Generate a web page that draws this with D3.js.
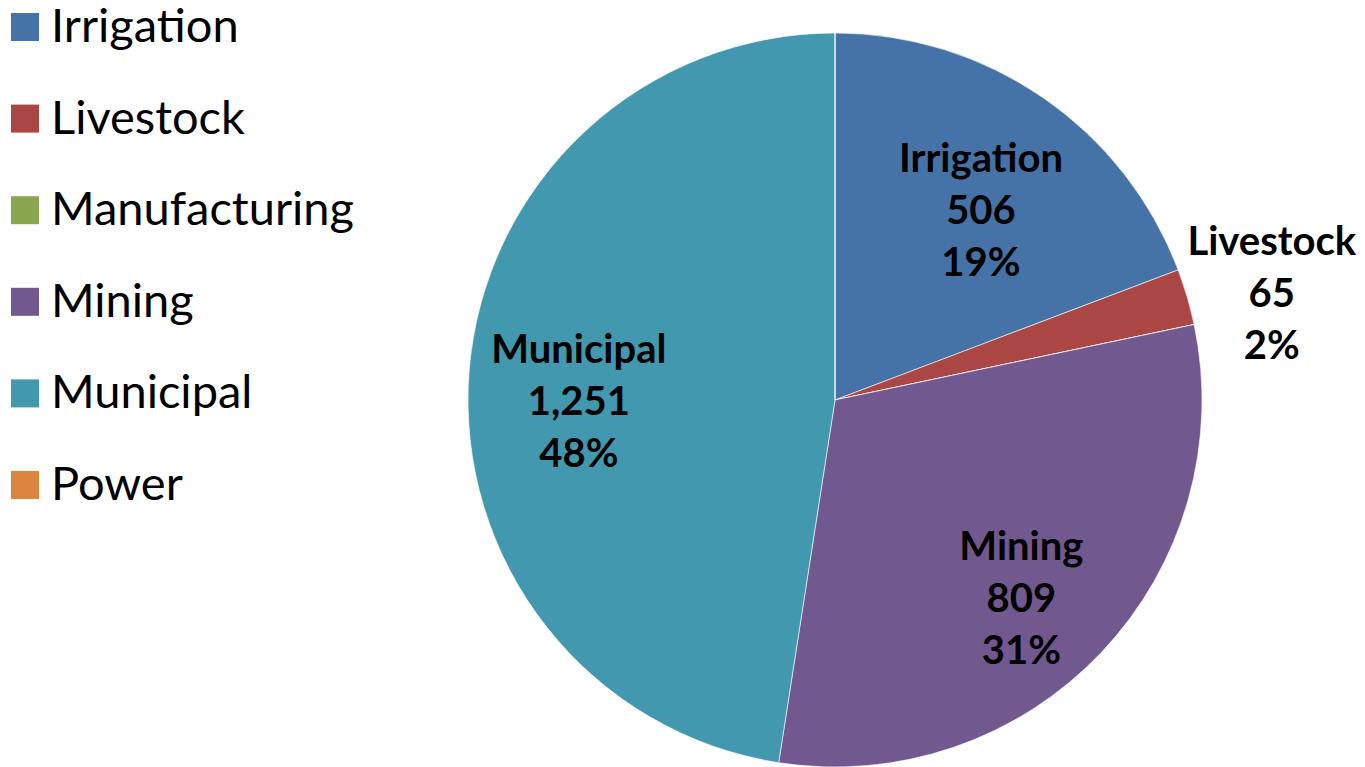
<!DOCTYPE html>
<html>
<head>
<meta charset="utf-8">
<script src="https://cdn.jsdelivr.net/npm/d3@7"></script>
<style>
  body { margin: 0; background: #fff; }
  svg { display: block; }
  text { font-family: Lato, "Open Sans", sans-serif; fill: #000; }
</style>
</head>
<body>
<div id="chart"></div>
<script>
// water use by sector
var categories = ["Irrigation", "Livestock", "Manufacturing", "Mining", "Municipal", "Power"];
var values = [506, 65, 0, 809, 1251, 0];
var colors = ["#4572A7", "#AA4643", "#89A54E", "#71588F", "#4198AF", "#DB843D"];

var width = 1365, height = 767;
var cx = 835, cy = 400, radius = 367;

var data = categories.map(function(c, i) { return {name: c, value: values[i], color: colors[i]}; });
var total = d3.sum(values);

var svg = d3.select("#chart").append("svg")
    .attr("width", width)
    .attr("height", height);

var pie = d3.pie()
    .sort(null)
    .value(function(d) { return d.value; });

var arc = d3.arc().innerRadius(0).outerRadius(radius);
var labelArc = d3.arc().innerRadius(radius * 0.70).outerRadius(radius * 0.70);
var outerLabelArc = d3.arc().innerRadius(radius * 1.24).outerRadius(radius * 1.24);

var g = svg.append("g")
    .attr("transform", "translate(" + cx + "," + cy + ")");

var arcs = pie(data);

g.selectAll("path.slice")
    .data(arcs)
    .enter().append("path")
    .attr("class", "slice")
    .attr("d", arc)
    .attr("fill", function(d) { return d.data.color; })
    .attr("stroke", "#fff")
    .attr("stroke-width", 0.6);

//data labels
var fmt = d3.format(",");
var labels = g.selectAll("text.label")
    .data(arcs.filter(function(d) { return d.data.value > 0; }))
    .enter().append("text")
    .attr("class", "label")
    .attr("text-anchor", "middle")
    .style("font-size", "40px")
    .style("font-weight", "bold")
    .attr("transform", function(d) {
        var small = (d.endAngle - d.startAngle) < 0.2;
        var p = small ? outerLabelArc.centroid(d) : labelArc.centroid(d);
        return "translate(" + p[0] + "," + (p[1] + 23) + ")";
    });

labels.each(function(d) {
    var t = d3.select(this);
    var lines = [d.data.name, fmt(d.data.value), Math.round(d.data.value / total * 100) + "%"];
    lines.forEach(function(s, i) {
        t.append("tspan")
            .attr("x", 0)
            .attr("y", (i - 1) * 52 + 12)
            .text(s);
    });
});

//legend
var legend = svg.append("g").attr("class", "legend");
var rows = legend.selectAll("g")
    .data(data)
    .enter().append("g")
    .attr("transform", function(d, i) { return "translate(11," + (27 + i * 91.6) + ")"; });

rows.append("rect")
    .attr("x", 0)
    .attr("y", -14)
    .attr("width", 28)
    .attr("height", 28)
    .attr("fill", function(d) { return d.color; });

rows.append("text")
    .attr("x", 40)
    .attr("y", 15)
    .style("font-size", "47px")
    .text(function(d) { return d.name; });
</script>
</body>
</html>
